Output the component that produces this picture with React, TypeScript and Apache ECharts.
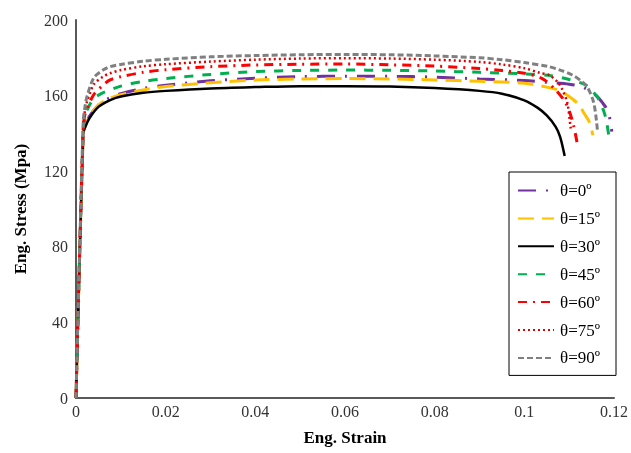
import React, { useEffect, useRef } from "react";
import * as echarts from "echarts";

const xTicks = { min: 0, max: 0.12, interval: 0.02 };
const yTicks = { min: 0, max: 200, interval: 40 };

const legendNames = ["θ=0º", "θ=15º", "θ=30º", "θ=45º", "θ=60º", "θ=75º", "θ=90º"];

const deg0: [number, number][] = [[0,0],[0.0016,140],[0.002,143.5],[0.003,149],[0.005,155],[0.0075,158.8],[0.01,161],[0.015,163.8],[0.02,165.5],[0.03,167.8],[0.04,169.2],[0.05,170],[0.06,170.3],[0.07,170.2],[0.08,169.8],[0.09,168.8],[0.1,168],[0.105,167],[0.11,166],[0.113,164.5],[0.1159,160.3],[0.1175,156],[0.1186,152],[0.1193,145],[0.1195,141]];
const deg15: [number, number][] = [[0,0],[0.0016,140],[0.002,143.5],[0.003,149],[0.005,155],[0.0075,158.5],[0.01,160.5],[0.015,163],[0.02,164.8],[0.03,166.8],[0.04,168.2],[0.05,168.8],[0.06,169],[0.07,168.8],[0.08,168.3],[0.09,167.6],[0.1,166.5],[0.105,164.5],[0.108,162.5],[0.11,159.5],[0.112,155.5],[0.1135,150],[0.1145,146],[0.1153,139]];
const deg30: [number, number][] = [[0,0],[0.0016,140],[0.002,143],[0.003,148],[0.005,154],[0.0075,157.5],[0.01,159.5],[0.015,161.5],[0.02,162.5],[0.03,163.8],[0.04,164.5],[0.05,165],[0.06,165],[0.07,164.8],[0.08,164],[0.09,162.5],[0.095,161],[0.1,157.5],[0.103,153.5],[0.105,149.5],[0.107,143.5],[0.108,138],[0.109,128]];
const deg45: [number, number][] = [[0,0],[0.0016,142],[0.002,148],[0.0025,152.5],[0.004,158.5],[0.006,161.5],[0.0076,163],[0.01,165],[0.015,167.5],[0.02,169],[0.03,171.2],[0.04,172.7],[0.05,173.3],[0.06,173.5],[0.07,173.4],[0.08,173],[0.09,172.3],[0.1,171.5],[0.106,170.5],[0.11,168.5],[0.1137,165.6],[0.1155,161.5],[0.1167,157.7],[0.1181,148.8],[0.1189,138],[0.119,136.5]];
const deg60: [number, number][] = [[0,0],[0.0016,143],[0.002,150],[0.003,156],[0.0039,160.3],[0.006,165.5],[0.0076,168.3],[0.01,170],[0.015,172.3],[0.02,173.7],[0.03,175.3],[0.04,176.2],[0.05,176.6],[0.06,176.7],[0.07,176.3],[0.08,175.6],[0.09,174.3],[0.095,173.3],[0.1,171.8],[0.104,169],[0.107,163],[0.109,157],[0.11,152],[0.111,144],[0.1118,134.8],[0.112,133]];
const deg75: [number, number][] = [[0,0],[0.0016,145],[0.002,152],[0.0025,157],[0.004,166],[0.006,170],[0.0076,171.8],[0.01,173.5],[0.015,175.5],[0.02,176.6],[0.03,178],[0.04,179],[0.05,179.6],[0.06,179.8],[0.07,179.6],[0.08,179],[0.09,177.8],[0.095,176.5],[0.1,174.5],[0.1035,172],[0.1055,170.9],[0.1075,167],[0.1085,163],[0.1096,156],[0.1103,143.5],[0.1105,141]];
const deg90: [number, number][] = [[0,0],[0.0016,146],[0.002,154],[0.0025,160],[0.004,169.5],[0.006,173.5],[0.0076,175.3],[0.01,176.5],[0.015,178.2],[0.02,179.2],[0.03,180.5],[0.04,181.2],[0.05,181.6],[0.06,181.8],[0.07,181.6],[0.08,181],[0.09,180],[0.095,179],[0.1,177.5],[0.1055,175.3],[0.108,173.5],[0.1107,170.9],[0.1125,168],[0.114,164.7],[0.1155,156],[0.1163,141.8]];

const seriesData = [deg0, deg15, deg30, deg45, deg60, deg75, deg90];
const colors = ["#7030A0", "#FFC000", "#000000", "#00B050", "#FF0000", "#E00000", "#808080"];
const dashes: (number[] | "solid")[] = [
  [18, 10, 2, 10],
  [16, 8],
  "solid",
  [9, 9],
  [9, 6, 2, 6],
  [2, 3],
  [6, 3],
];
const widths = [3, 3, 2.5, 3, 3, 2.5, 3];

export default function App() {
  const ref = useRef<HTMLDivElement>(null);
  useEffect(() => {
    if (!ref.current) return;
    const chart = echarts.init(ref.current, undefined, { renderer: "svg" });
    const font = "'Liberation Serif', 'Times New Roman', serif";
    chart.setOption({
      animation: false,
      grid: { left: 76, right: 16, top: 20, bottom: 55, containLabel: false },
      xAxis: {
        type: "value",
        min: xTicks.min,
        max: xTicks.max,
        interval: xTicks.interval,
        name: "Eng. Strain",
        nameLocation: "middle",
        nameGap: 31,
        nameTextStyle: { fontFamily: font, fontSize: 17, fontWeight: "bold", color: "#000" },
        axisLine: { lineStyle: { color: "#595959", width: 2 } },
        axisTick: { show: false },
        splitLine: { show: false },
        axisLabel: { fontFamily: font, fontSize: 16, color: "#333", margin: 5 },
      },
      yAxis: {
        type: "value",
        min: yTicks.min,
        max: yTicks.max,
        interval: yTicks.interval,
        name: "Eng. Stress (Mpa)",
        nameLocation: "middle",
        nameGap: 47,
        nameRotate: 90,
        nameTextStyle: { fontFamily: font, fontSize: 17, fontWeight: "bold", color: "#000" },
        axisLine: { show: true, lineStyle: { color: "#595959", width: 2 } },
        axisTick: { show: false },
        splitLine: { show: false },
        axisLabel: { fontFamily: font, fontSize: 16, color: "#333", margin: 8 },
      },
      legend: {
        orient: "vertical",
        left: 509,
        top: 172,
        data: legendNames,
        itemWidth: 36,
        itemHeight: 14,
        itemGap: 10.9,
        padding: [10, 16, 9, 8],
        borderColor: "#000",
        borderWidth: 1,
        backgroundColor: "#fff",
        itemStyle: { opacity: 0, borderWidth: 0 },
        textStyle: { fontFamily: font, fontSize: 17, color: "#000", padding: [0, 0, 0, 1] },
      },
      series: seriesData.map((d, i) => ({
        name: legendNames[i],
        type: "line",
        data: d,
        symbol: "none",
        showSymbol: false,
        smooth: 0.3,
        color: colors[i],
        lineStyle: { color: colors[i], width: widths[i], type: dashes[i] },
        z: 2 + i,
      })),
    });
    return () => chart.dispose();
  }, []);
  return <div ref={ref} style={{ position: "fixed", left: 0, top: 0, width: 631, height: 453 }} />;
}
